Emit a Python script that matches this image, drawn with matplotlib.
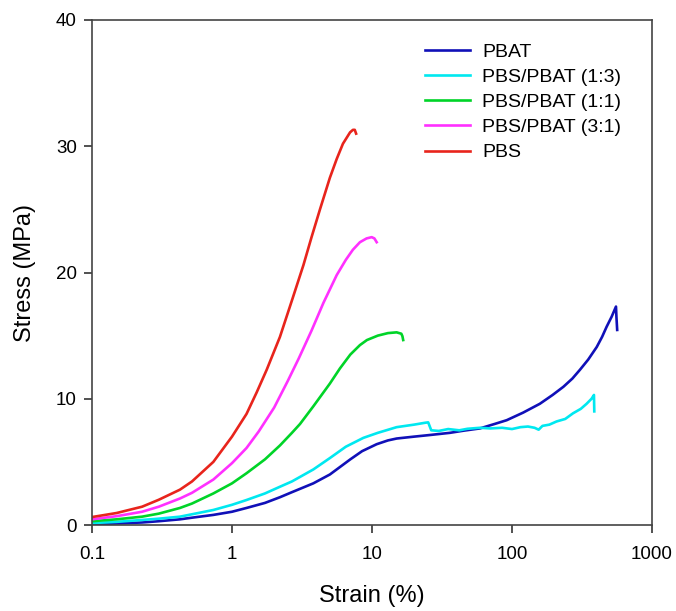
import matplotlib.pyplot as plt

plt.rcParams['font.family'] = ['Liberation Sans', 'DejaVu Sans']

# Stress-strain curves (strain %, stress MPa)
pbat_strain = [0.1, 0.15, 0.228, 0.3, 0.425, 0.518, 0.736, 1.0, 1.27, 1.72, 2.2, 2.68,
               3.81, 5.0, 6.0, 7.0, 8.5, 10.8, 13, 15, 20, 26, 36, 45, 59, 75, 91.6,
               120, 158, 195, 233, 270, 306, 350, 403, 440, 474, 515, 553, 557, 564]
pbat_stress = [0.05, 0.12, 0.2, 0.3, 0.45, 0.58, 0.8, 1.05, 1.35, 1.75, 2.2, 2.6,
               3.3, 4.0, 4.65, 5.2, 5.85, 6.4, 6.7, 6.85, 7.0, 7.13, 7.3, 7.47, 7.65, 8.0, 8.3,
               8.9, 9.6, 10.3, 10.95, 11.6, 12.3, 13.1, 14.1, 14.9, 15.7, 16.5, 17.3, 16.5, 15.45]

pbs13_strain = [0.1, 0.15, 0.228, 0.3, 0.425, 0.518, 0.736, 1.0, 1.27, 1.72, 2.2, 2.68,
                3.81, 5.0, 6.5, 8.67, 11, 15, 20, 24, 25.2, 26.5, 30, 35, 42, 48, 59,
                70, 85, 100, 115, 130, 145, 155, 165, 185, 208, 240, 273, 310, 341,
                370, 385, 387]
pbs13_stress = [0.15, 0.25, 0.4, 0.5, 0.66, 0.85, 1.19, 1.6, 1.98, 2.5, 3.03, 3.45,
                4.4, 5.3, 6.2, 6.9, 7.3, 7.75, 7.95, 8.1, 8.13, 7.5, 7.45, 7.6, 7.5, 7.62, 7.7,
                7.65, 7.7, 7.6, 7.75, 7.8, 7.7, 7.55, 7.85, 7.95, 8.2, 8.4, 8.85, 9.2, 9.6,
                10.0, 10.3, 9.0]

pbs11_strain = [0.1, 0.15, 0.228, 0.3, 0.425, 0.518, 0.736, 1.0, 1.27, 1.72, 2.2, 2.68,
                3.06, 3.81, 5.0, 5.9, 7.0, 8.2, 9.2, 11, 13, 15, 16.2, 16.5, 16.7]
pbs11_stress = [0.3, 0.45, 0.66, 0.9, 1.35, 1.7, 2.5, 3.3, 4.1, 5.2, 6.3, 7.3,
                8.0, 9.4, 11.2, 12.4, 13.5, 14.25, 14.65, 15.0, 15.2, 15.26, 15.15, 14.95, 14.65]

pbs31_strain = [0.1, 0.15, 0.228, 0.3, 0.425, 0.518, 0.736, 1.0, 1.27, 1.55, 2.0, 2.5,
                3.0, 3.7, 4.5, 5.6, 6.5, 7.3, 8.2, 9.15, 9.95, 10.4, 10.8]
pbs31_stress = [0.45, 0.7, 1.05, 1.45, 2.1, 2.55, 3.6, 4.9, 6.1, 7.4, 9.3, 11.4,
                13.2, 15.4, 17.6, 19.8, 21.0, 21.8, 22.4, 22.7, 22.8, 22.7, 22.4]

pbs_strain = [0.1, 0.15, 0.228, 0.3, 0.425, 0.518, 0.736, 1.0, 1.27, 1.5, 1.77, 2.2,
              2.7, 3.24, 3.7, 4.25, 5.0, 5.6, 6.2, 6.97, 7.31, 7.53, 7.7]
pbs_stress = [0.63, 0.95, 1.45, 2.0, 2.8, 3.45, 5.0, 7.0, 8.8, 10.5, 12.3, 14.9,
              17.9, 20.6, 22.8, 25.0, 27.5, 29.0, 30.2, 31.1, 31.3, 31.3, 31.0]

labels = ['PBAT', 'PBS/PBAT (1:3)', 'PBS/PBAT (1:1)', 'PBS/PBAT (3:1)', 'PBS']
colors = ['#1010b8', '#00e8f0', '#00d428', '#ff30ff', '#e8241c']

fig = plt.figure(figsize=(6.76, 6.11), dpi=100)
ax = fig.add_axes([92 / 676, 1 - 525 / 611, 560 / 676, 505 / 611])

series = [(pbat_strain, pbat_stress), (pbs13_strain, pbs13_stress),
          (pbs11_strain, pbs11_stress), (pbs31_strain, pbs31_stress),
          (pbs_strain, pbs_stress)]
for (x, y), lab, col in zip(series, labels, colors):
    ax.plot(x, y, color=col, lw=1.9, label=lab, solid_joinstyle='round')

ax.set_xscale('log')
ax.set_xlim(0.1, 1000)
ax.set_ylim(0, 40)
ax.set_xticks([0.1, 1, 10, 100, 1000])
ax.set_xticklabels(['0.1', '1', '10', '100', '1000'])
ax.set_yticks([0, 10, 20, 30, 40])
ax.minorticks_off()
ax.tick_params(direction='out', length=6, width=1.2, colors='#333333',
               labelsize=13.5, labelcolor='black')
ax.tick_params(axis='x', pad=9)
ax.tick_params(axis='y', pad=5)
for s in ax.spines.values():
    s.set_color('#444444')
    s.set_linewidth(1.2)

ax.set_xlabel('Strain (%)', fontsize=17, labelpad=16)
ax.set_ylabel('Stress (MPa)', fontsize=17, labelpad=14)

ax.legend(loc='upper left', bbox_to_anchor=(425 / 676, 1 - 43 / 611),
          bbox_transform=fig.transFigure, frameon=False, fontsize=14,
          handlelength=2.3, handletextpad=0.65, labelspacing=0.39,
          borderaxespad=0, borderpad=0)

fig.savefig('out.png', dpi=100)
